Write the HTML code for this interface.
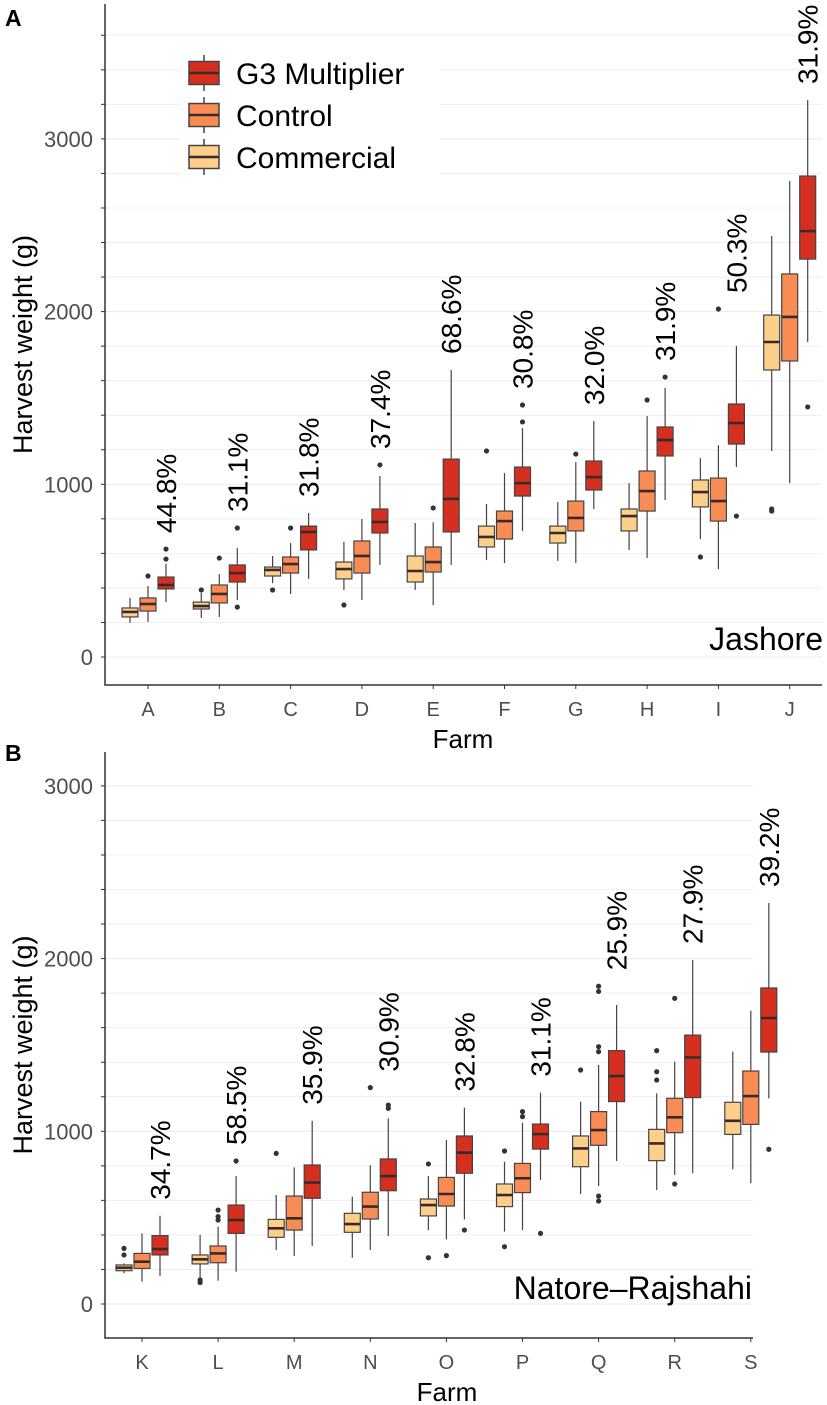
<!DOCTYPE html>
<html><head><meta charset="utf-8">
<style>
body{margin:0;background:#fff;}
svg{display:block;font-family:"Liberation Sans",Arial,sans-serif;}
</style></head>
<body>
<svg id="chart" width="827" height="1405" viewBox="0 0 827 1405">
</svg>
<script>
// ---------- DATA ----------
const farmsA = ["A","B","C","D","E","F","G","H","I","J"];
// [lo, q1, median, q3, hi]
const comA = [[197,232,261,284,342],[226,278,295,318,370],[428,469,504,521,585],[388,452,509,550,666],[388,434,498,585,776],[562,637,695,758,886],[556,660,718,758,897],[620,730,816,857,1007],[683,869,955,1025,1152],[1193,1662,1824,1980,2438]];
const ctlA = [[203,266,307,342,411],[232,313,365,417,480],[365,486,538,579,660],[330,486,585,672,799],[301,492,550,637,780],[544,683,787,845,1065],[544,730,805,903,1129],[573,845,961,1077,1395],[509,787,903,1036,1227],[1007,1714,1969,2218,2756]];
const g3A = [[318,394,417,463,540],[330,434,486,533,631],[452,620,724,758,834],[533,718,782,857,1048],[533,724,915,1146,1662],[730,932,1007,1100,1326],[857,967,1042,1135,1366],[909,1164,1256,1332,1558],[1100,1233,1355,1465,1801],[1824,2304,2466,2785,3225]];
const comOutA = [[],[388],[388],[301],[],[1193],[],[],[579],[857,845]];
const ctlOutA = [[469],[573],[747],[],[863],[],[1175],[1488],[2015],[]];
const g3OutA = [[567,625],[289,747],[],[1112],[],[1361,1459],[],[1621],[816],[1448]];
const pctA = ["44.8%","31.1%","31.8%","37.4%","68.6%","30.8%","32.0%","31.9%","50.3%","31.9%"];

const farmsB = ["K","L","M","N","O","P","Q","R","S"];
const comB = [[178,193,210,226,235],[149,232,259,284,400],[313,386,438,490,631],[268,415,463,525,621],[428,510,573,608,741],[419,564,631,695,824],[637,795,901,973,1172],[660,830,930,1011,1220],[780,982,1061,1168,1461]];
const ctlB = [[129,206,245,293,409],[135,239,293,336,448],[278,428,496,625,791],[313,492,564,647,803],[374,567,637,733,950],[428,645,728,814,1050],[683,919,1007,1114,1384],[747,992,1081,1191,1403],[699,1040,1204,1349,1698]];
const g3B = [[162,284,318,396,511],[187,409,486,573,741],[336,612,703,805,1061],[394,656,741,840,1075],[490,757,876,973,1137],[718,897,984,1042,1224],[828,1172,1320,1467,1731],[757,1195,1428,1557,1992],[1191,1459,1656,1830,2322]];
const comOutB = [[322,284],[139,124],[872],[],[811,268],[886,332],[1355],[1467,1345,1297],[]];
const ctlOutB = [[],[544,506,486],[],[1253],[280],[1114,1085],[1840,1810,1490,1461,625,596],[1770,695],[]];
const g3OutB = [[],[828],[],[1152,1133],[428],[409],[],[],[896]];
const pctB = ["34.7%","58.5%","35.9%","30.9%","32.8%","31.1%","25.9%","27.9%","39.2%"];

const yTicks = [0,1000,2000,3000];

// ---------- DRAWING ----------
const NS="http://www.w3.org/2000/svg";
const svg=document.getElementById('chart');
function mk(tag,attrs,parent){const e=document.createElementNS(NS,tag);for(const k in attrs)e.setAttribute(k,attrs[k]);(parent||svg).appendChild(e);return e;}
const COLORS={com:"#FDCF8A",ctl:"#F98C55",g3:"#D42F1F"};

function panel(cfg){
  const g=mk('g',{});
  
  
  const y=v=>cfg.y0-v*cfg.k;
  const x=i=>cfg.xFirst+i*cfg.step;
  for(let v=0;v<=cfg.gridMax;v+=200){
    const gl=mk('line',{x1:cfg.left,x2:cfg.right,y1:y(v),y2:y(v),stroke:"#ebebeb","stroke-width":v%1000===0?1.1:0.8},g);
    
    
    const tk=mk('line',{x1:cfg.left-4,x2:cfg.left,y1:y(v),y2:y(v),stroke:"#333","stroke-width":1},g);
    
    
  }
  yTicks.forEach(v=>{
    const t=mk('text',{x:cfg.left-12,y:y(v)+8,"text-anchor":"end","font-size":22,fill:"#4d4d4d"},g);
    t.textContent=v;
    
    
  });
  const groups=[["com",cfg.com,cfg.comOut,-18],["ctl",cfg.ctl,cfg.ctlOut,0],["g3",cfg.g3,cfg.g3Out,18]];
  cfg.farms.forEach((f,i)=>{
    let maxV=0;
    groups.forEach(([key,data,outs,off])=>{
      const d=data[i],cx=x(i)+off,w=16;
      const bg=mk('g',{},g);
      
      
      mk('line',{x1:cx,x2:cx,y1:y(d[0]),y2:y(d[4]),stroke:"#444","stroke-width":1.2},bg);
      mk('rect',{x:cx-w/2,y:y(d[3]),width:w,height:y(d[1])-y(d[3]),fill:COLORS[key],stroke:"#444","stroke-width":1.2},bg);
      mk('line',{x1:cx-w/2,x2:cx+w/2,y1:y(d[2]),y2:y(d[2]),stroke:"#3a2a2a","stroke-width":2.6},bg);
      maxV=Math.max(maxV,d[4]);
      outs[i].forEach(o=>{
        const c=mk('circle',{cx:cx,cy:y(o),r:2.6,fill:"#333"},bg);
        
        
        maxV=Math.max(maxV,o);
      });
    });
    const lx=x(i)+18+10, ly=y(maxV)-16;
    const t=mk('text',{x:lx,y:ly,transform:`rotate(-90 ${lx} ${ly})`,"font-size":28,fill:"#000"},g);
    t.textContent=cfg.pct[i];
    
    
    const xt=mk('line',{x1:x(i),x2:x(i),y1:cfg.bottom,y2:cfg.bottom+4,stroke:"#333","stroke-width":1},g);
    
    
    const xl=mk('text',{x:x(i),y:cfg.bottom+31,"text-anchor":"middle","font-size":20,fill:"#4d4d4d"},g);
    xl.textContent=f;
    
    
  });
  const ax=mk('path',{d:`M${cfg.left} ${cfg.top} V${cfg.bottom} H${cfg.right}`,fill:"none",stroke:"#333","stroke-width":1.5},g);
  
  
  const xt=mk('text',{x:cfg.xTitleX,y:cfg.bottom+63,"text-anchor":"middle","font-size":26,fill:"#000"},g);
  xt.textContent="Farm";
  
  
  const yc=(cfg.top+cfg.bottom)/2;
  const yt=mk('text',{x:32,y:yc,transform:`rotate(-90 32 ${yc})`,"text-anchor":"middle","font-size":27,fill:"#000"},g);
  yt.textContent="Harvest weight (g)";
  
  
  const rg=mk('text',{x:cfg.regionX,y:cfg.regionY,"text-anchor":"end","font-size":32,fill:"#000"},g);
  rg.textContent=cfg.region;
  
  
  const pl=mk('text',{x:5,y:cfg.letterY,"font-size":23,"font-weight":"bold",fill:"#000"},g);
  pl.textContent=cfg.letter;
  
  
}

panel({name:"panel-jashore",letter:"A",letterY:26,farms:farmsA,com:comA,ctl:ctlA,g3:g3A,comOut:comOutA,ctlOut:ctlOutA,g3Out:g3OutA,pct:pctA,
  y0:657,k:0.1727,left:105,right:822,top:4,bottom:685,xFirst:148,step:71.3,gridMax:3600,region:"Jashore",regionX:823,regionY:650,xTitleX:463});
panel({name:"panel-natore-rajshahi",letter:"B",letterY:761,farms:farmsB,com:comB,ctl:ctlB,g3:g3B,comOut:comOutB,ctlOut:ctlOutB,g3Out:g3OutB,pct:pctB,
  y0:1304,k:0.1727,left:105,right:753,top:752,bottom:1338,xFirst:142,step:76.1,gridMax:3000,region:"Natore–Rajshahi",regionX:752,regionY:1299,xTitleX:447});

const lg=mk('g',{});


mk('rect',{x:180,y:50,width:260,height:128,fill:"#fff"},lg);
[["G3 Multiplier","g3",73],["Control","ctl",115],["Commercial","com",157]].forEach(([lab,key,cy])=>{
  const e=mk('g',{},lg);
  
  
  mk('line',{x1:204,x2:204,y1:cy-18,y2:cy+18,stroke:"#444","stroke-width":1.5},e);
  mk('rect',{x:189,y:cy-11.5,width:30,height:23,fill:COLORS[key],stroke:"#444","stroke-width":1.5},e);
  mk('line',{x1:189,x2:219,y1:cy,y2:cy,stroke:"#3a2a2a","stroke-width":2.6},e);
  const t=mk('text',{x:236,y:cy+11,"font-size":30,fill:"#000"},e);
  t.textContent=lab;
});
</script>
</body></html>
